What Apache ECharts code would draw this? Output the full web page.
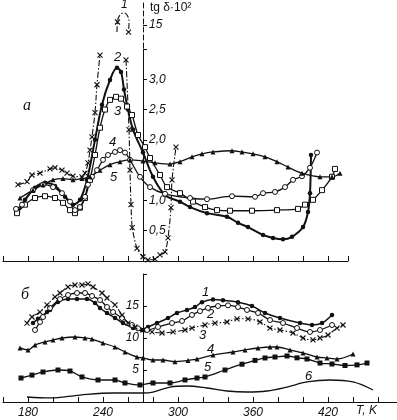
<!DOCTYPE html>
<html><head><meta charset="utf-8">
<script src="https://cdn.jsdelivr.net/npm/echarts@6/dist/echarts.min.js"></script>
<style>html,body{margin:0;padding:0;background:#fff}#c{width:397px;height:420px}</style>
</head><body><div id="c"></div>
<script>
// ---------- Panel а (tg δ·10²) ----------
const a1LeftT = [172,179.2,183.2,189.6,197.6,201.6,207.2,211.2,216,223.2,225.6,228,229.6,231.2,233.6,235.2,237.6];
const a1LeftV = [1.26,1.31,1.42,1.45,1.52,1.54,1.50,1.45,1.40,1.39,1.45,1.62,1.83,2.05,2.45,2.91,3.40];
const a1RightT = [258.4,260.8,261.6,262.4,263.4,267.2,272,276,281.6,285.6,289.6,292,294.4,295.2,298.4];
const a1RightV = [3.32,2.17,1.50,0.93,0.55,0.21,0.07,0.02,0.03,0.10,0.15,0.38,0.88,1.34,1.88];
const a1PeakT = [251.2,251.6,253.6,256.8,259.2,260.8,260.4];
const a1PeakV = [14.53,15.2,15.67,15.8,15.67,15.2,14.53];

const a2T = [172,177.6,185.6,193.6,201.6,209.6,216,221.6,227.2,233.6,239.2,245.6,251.2,254.4,256.8,260,264,272,280,289.6,301.6,309.6,323.2,339.2,348,356,368,376,384,391.2,400,404,405.6,406.4];
const a2V = [0.81,1.01,1.21,1.29,1.24,1.06,0.93,1.01,1.34,2.0,2.58,2.99,3.19,3.12,2.83,2.5,2.17,1.79,1.39,1.09,0.98,0.89,0.79,0.73,0.63,0.56,0.43,0.38,0.36,0.40,0.56,0.81,1.12,1.75];

const a3T = [171.2,177.6,185.6,193.6,201.6,208,213.6,217.6,221.6,225.6,229.6,233.6,237.6,241.6,245.6,250.4,254.4,259.2,263.2,268,273.6,277.6,285.6,291.2,301.6,312,321.6,331.2,341.6,359.2,379.2,396,401.6,408,415.2,423.2,425.6];
const a3V = [0.79,0.93,1.04,1.07,1.04,0.96,0.84,0.79,0.88,1.04,1.34,1.75,2.20,2.50,2.66,2.71,2.68,2.55,2.41,2.08,1.88,1.70,1.42,1.22,1.12,0.98,0.89,0.84,0.83,0.83,0.84,0.86,0.93,1.01,1.17,1.39,1.52];

const a4T = [170.4,175.2,184,192,200,207.2,213.6,217.6,221.6,225.6,228,231.2,235.2,240,244,249.6,253.6,257.6,261.6,269.6,277.6,289.6,309.6,323.2,343.2,361.6,368,377.6,385.6,392,399.2,405.6,411.2];
const a4V = [0.86,0.93,1.17,1.26,1.22,1.12,0.98,0.84,0.89,1.06,1.26,1.39,1.50,1.67,1.75,1.80,1.83,1.79,1.67,1.39,1.22,1.11,1.04,1.02,1.07,1.06,1.12,1.14,1.22,1.34,1.40,1.54,1.79];

const a5T = [173.6,184,192,200,208,216,223.2,229.6,237.6,245.6,253.6,261.6,272,281.6,293.6,301.6,311.2,319.2,328,343.2,351.2,360,369.6,379.2,388,399.2,413.6,423.2,429.6];
const a5V = [1.04,1.17,1.26,1.34,1.36,1.34,1.36,1.39,1.50,1.59,1.64,1.67,1.65,1.62,1.60,1.64,1.72,1.77,1.80,1.82,1.80,1.77,1.72,1.64,1.55,1.45,1.39,1.39,1.45];

const aTickLabels = {0.5:'0,5', 1:'1,0', 2:'2,0', 2.5:'2,5', 3:'3,0'};

// ---------- Panel б ----------
const b1T = [184,188,195.2,197.6,204,212,219.2,227.2,233.6,237.6,243.2,249.6,256,264,271.2,276,283.2,292,299.2,307.2,313.6,319.2,328,336,348,359.2,369.6,381.6,397.6,407.2,415.2,423.2];
const b1V = [12.34,13.0,14.06,14.38,15.63,16.09,16.09,16.09,15.47,14.69,13.91,13.13,12.34,11.56,11.25,11.72,12.34,13.13,13.91,14.38,14.84,15.6,16.0,15.9,15.6,15.0,13.91,13.13,12.34,12.03,12.34,13.59];

const b2T = [185.6,189.6,192,197.6,205.6,212,219.2,225.6,231.2,237.6,243.2,248,255.2,263.2,268,275.2,284,295.2,303.2,311.2,317.6,324,332,340,348,355.2,364,373.6,384,395.2,405.6,413.6,423.2];
const b2V = [11.25,12.5,13.28,14.69,16.09,16.72,17.03,17.03,16.56,15.94,14.84,14.06,13.13,12.03,11.5,11.25,11.72,12.34,12.66,13.6,14.2,14.7,15.0,15.1,14.84,14.38,13.91,12.81,12.34,11.56,10.94,11.25,12.03];

const b3T = [179.2,183.2,189.6,195.2,201.6,205.6,212,217.6,223.2,228,232,239.2,243.2,249.6,255.2,260,265.6,272,279.2,287.2,296,305.6,311.2,321.6,329.6,339.2,347.2,356,365.6,373.6,381.6,392,400,408,413.6,420,427.2,432];
const b3V = [12.34,13.28,14.06,15.16,16.41,17.03,17.97,18.28,18.28,18.44,17.97,17.03,16.25,15.16,13.59,12.34,11.72,11.25,10.94,10.78,10.94,11.25,11.56,12.03,12.34,12.5,13.0,13.0,12.5,11.56,11.25,10.78,10.0,9.69,10.0,10.47,11.56,12.03];

const b4T = [173.6,180,185.6,193.6,200,207.2,217.6,225.6,231.2,240,249.6,257.6,267.2,272,280,288,297.6,308,315.2,328,344,353.6,364,373.6,379.2,389.6,400,411.2,419.2,427.2,440];
const b4V = [8.44,8.13,8.91,9.38,9.69,10.0,10.16,10.0,9.84,9.22,8.59,7.81,7.03,6.88,6.56,6.56,6.3,6.5,6.7,7.34,7.81,8.13,8.44,8.59,8.59,8.13,7.66,7.03,6.88,6.72,7.5];

const b5T = [174.4,183.2,192,204,213.6,223.2,236,249.6,257.6,269.6,280,293.6,305.6,315.2,321.6,337.6,351.2,361.6,369.6,377.6,387.2,395.2,403.2,413.6,423.2,433.6,443.2,451.2];
const b5V = [3.75,4.2,4.69,5.0,4.84,3.91,3.44,3.44,2.97,2.66,2.97,2.97,3.44,3.75,3.91,5.0,5.9,6.5,6.88,7.03,7.19,6.9,6.72,6.09,5.94,5.7,5.8,6.09];

const b6T = [179.2,197.6,221.6,248,272,280,293.6,307.2,323.2,339.2,355.2,371.2,387.2,403.2,421.6,440,456];
const b6V = [0.78,0.63,1.09,1.41,1.41,1.56,2.34,2.5,2.19,1.72,1.56,1.72,2.34,3.13,3.44,3.13,1.88];

const xTickLabels = [180, 240, 300, 360, 420];
const bYLabels = [5, 10, 15];

// ---------- build ----------
const pairs = (T, V) => T.map((t, i) => [t, V[i]]);
const CROSS = 'path://M0,0L10,10M10,0L0,10';
const INK = '#111';
const FONT = 'Liberation Sans';

function mk(name, T, V, grid, sym, opts = {}) {
  const filled = opts.filled !== false;
  return {
    type: 'line', name,
    xAxisIndex: grid, yAxisIndex: grid,
    data: opts.data || pairs(T, V),
    smooth: opts.smooth == null ? 0.35 : opts.smooth,
    symbol: sym || 'none',
    symbolSize: opts.size || 5,
    showSymbol: !!sym,
    lineStyle: { color: INK, width: opts.width || 1.3, type: opts.dash || 'solid' },
    itemStyle: { color: sym === CROSS ? INK : (filled ? INK : '#fff'), borderColor: INK, borderWidth: sym === CROSS ? 1.1 : (filled ? 0 : 1) },
    emphasis: { disabled: true },
    silent: true, animation: false, clip: true, z: opts.z || 2
  };
}
const DASHDOT = [6, 2, 1.5, 2];

const peakData = a1PeakT.map((t, i) => ({ value: [t, a1PeakV[i]], symbolSize: (i === 1 || i === 6) ? 5 : 0 }));

const italic = (size) => ({ fontStyle: 'italic', fontFamily: FONT, fontSize: size, color: INK });

const axisCommonX = (min, max, showLabels) => ({
  type: 'value', min, max, interval: 20,
  axisLine: { show: true, onZero: false, lineStyle: { color: INK, width: 1 } },
  axisTick: { show: true, inside: true, length: 5, lineStyle: { color: INK } },
  splitLine: { show: false },
  axisLabel: showLabels ? Object.assign({
    show: true, margin: 5,
    formatter: v => xTickLabels.includes(v) ? String(v) : ''
  }, italic(12)) : { show: false }
});

const option = {
  backgroundColor: '#fff',
  animation: false,
  grid: [
    { left: 3, top: 49, width: 345, height: 212, outerBoundsMode: 'none' },
    { left: 3, top: 2, width: 345, height: 46, outerBoundsMode: 'none' },
    { left: 3, top: 274, width: 393.75, height: 128, outerBoundsMode: 'none' }
  ],
  xAxis: [
    Object.assign(axisCommonX(160, 436, false), { gridIndex: 0 }),
    { type: 'value', gridIndex: 1, min: 160, max: 436, show: false },
    Object.assign(axisCommonX(160, 475, true), { gridIndex: 2 })
  ],
  yAxis: [
    {
      type: 'value', gridIndex: 0, min: 0, max: 3.5, interval: 0.5, offset: -140,
      axisLine: { show: true, onZero: false, lineStyle: { color: INK, width: 1 } },
      axisTick: { show: true, inside: true, length: 4, lineStyle: { color: INK } },
      splitLine: { show: false },
      axisLabel: Object.assign({ inside: true, margin: 6, formatter: v => aTickLabels[v] || '' }, italic(12))
    },
    {
      type: 'value', gridIndex: 1, min: 13.467, max: 16.533, offset: -140,
      axisLine: { show: true, onZero: false, lineStyle: { color: INK, width: 1, type: [5, 3] } },
      axisTick: { show: true, inside: true, length: 4, customValues: [15], lineStyle: { color: INK } },
      splitLine: { show: false },
      axisLabel: Object.assign({ inside: true, margin: 6, customValues: [15], formatter: v => String(Math.round(v)) }, italic(12))
    },
    {
      type: 'value', gridIndex: 2, min: 0, max: 20, interval: 5, offset: -140,
      axisLine: { show: true, onZero: false, lineStyle: { color: INK, width: 1 } },
      axisTick: { show: true, inside: true, length: 4, lineStyle: { color: INK } },
      splitLine: { show: false },
      axisLabel: Object.assign({ margin: 4, formatter: v => bYLabels.includes(v) ? String(v) : '' }, italic(12))
    }
  ],
  series: [
    mk('а1L', a1LeftT, a1LeftV, 0, CROSS, { dash: DASHDOT, width: 1.1 }),
    mk('а1R', a1RightT, a1RightV, 0, CROSS, { dash: DASHDOT, width: 1.1, smooth: 0.25 }),
    mk('а1P', null, null, 1, CROSS, { dash: DASHDOT, width: 1.1, data: peakData, smooth: 0.5 }),
    mk('а2', a2T, a2V, 0, 'circle', { width: 2, size: 4.5 }),
    mk('а3', a3T, a3V, 0, 'rect', { filled: false, size: 5 }),
    mk('а4', a4T, a4V, 0, 'circle', { filled: false, size: 5 }),
    mk('а5', a5T, a5V, 0, 'triangle', { size: 5 }),
    mk('б1', b1T, b1V, 2, 'circle', { size: 4.5, width: 1.5 }),
    mk('б2', b2T, b2V, 2, 'circle', { filled: false, size: 5 }),
    mk('б3', b3T, b3V, 2, CROSS, { dash: DASHDOT, width: 1.1 }),
    mk('б4', b4T, b4V, 2, 'triangle', { size: 5 }),
    mk('б5', b5T, b5V, 2, 'rect', { size: 5 }),
    mk('б6', b6T, b6V, 2, null, { width: 1.3 })
  ],
  graphic: [
    { type: 'text', left: 150, top: 2, style: { text: 'tg δ·10²', font: '12px "Liberation Sans"', fill: INK } },
    { type: 'text', left: 23, top: 98, style: { text: 'а', font: 'italic 16px "Liberation Serif"', fill: INK } },
    { type: 'text', left: 21, top: 287, style: { text: 'б', font: 'italic 16px "Liberation Serif"', fill: INK } },
    { type: 'text', left: 121, top: -1, style: { text: '1', font: 'italic 12px "Liberation Sans"', fill: INK } },
    { type: 'text', left: 114, top: 51, style: { text: '2', font: 'italic 13px "Liberation Sans"', fill: INK } },
    { type: 'text', left: 114, top: 105, style: { text: '3', font: 'italic 13px "Liberation Sans"', fill: INK } },
    { type: 'text', left: 109, top: 136, style: { text: '4', font: 'italic 13px "Liberation Sans"', fill: INK } },
    { type: 'text', left: 110, top: 171, style: { text: '5', font: 'italic 13px "Liberation Sans"', fill: INK } },
    { type: 'text', left: 202, top: 286, style: { text: '1', font: 'italic 13px "Liberation Sans"', fill: INK } },
    { type: 'text', left: 207, top: 308, style: { text: '2', font: 'italic 13px "Liberation Sans"', fill: INK } },
    { type: 'text', left: 199, top: 329, style: { text: '3', font: 'italic 13px "Liberation Sans"', fill: INK } },
    { type: 'text', left: 207, top: 343, style: { text: '4', font: 'italic 13px "Liberation Sans"', fill: INK } },
    { type: 'text', left: 204, top: 361, style: { text: '5', font: 'italic 13px "Liberation Sans"', fill: INK } },
    { type: 'text', left: 305, top: 370, style: { text: '6', font: 'italic 13px "Liberation Sans"', fill: INK } },
    { type: 'text', left: 356, top: 405, style: { text: 'T, K', font: 'italic 12px "Liberation Sans"', fill: INK } }
  ]
};
const chart = echarts.init(document.getElementById('c'), null, { renderer: 'canvas' });
chart.setOption(option);
</script>
</body></html>
